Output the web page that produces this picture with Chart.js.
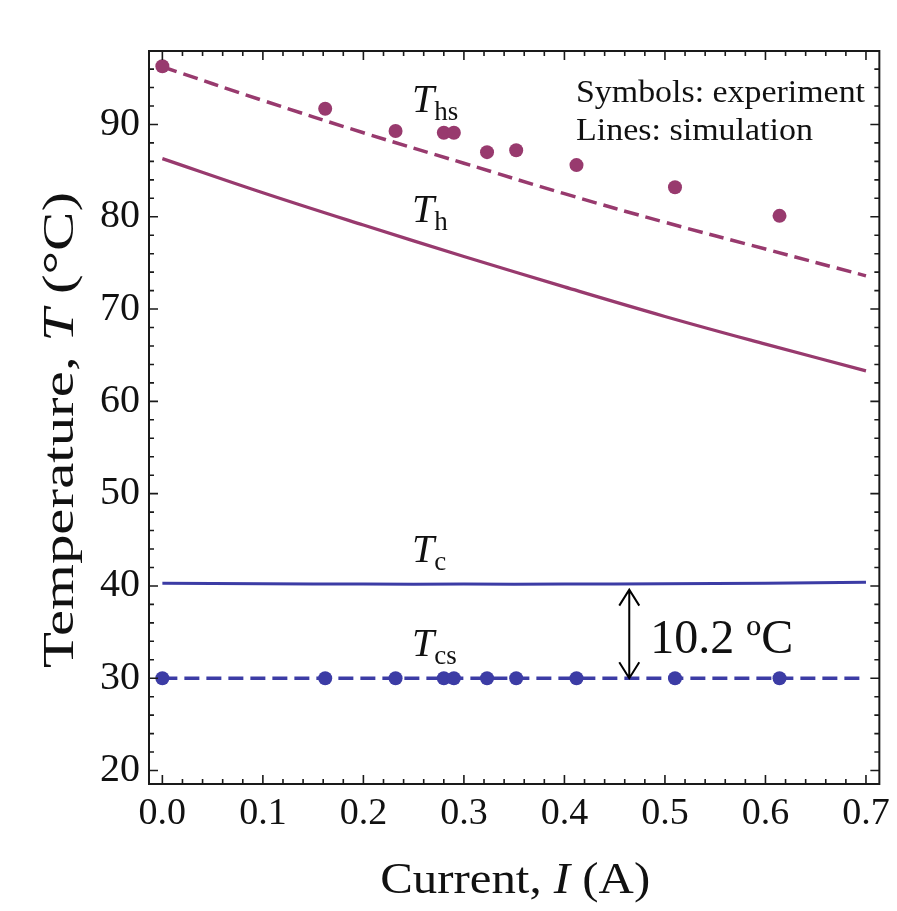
<!DOCTYPE html>
<html>
<head>
<meta charset="utf-8">
<script src="https://cdn.jsdelivr.net/npm/chart.js@4.4.1/dist/chart.umd.min.js"></script>
<style>
  html, body { margin: 0; padding: 0; background: #fff; }
</style>
</head>
<body>
<canvas id="tempChart" width="897" height="911"></canvas>
<script>
// experiment (symbols)
const expCurrent = [0.0, 0.162, 0.232, 0.280, 0.290, 0.323, 0.352, 0.412, 0.510, 0.614]
const expThs = [96.3, 91.7, 89.3, 89.1, 89.1, 87.0, 87.2, 85.6, 83.2, 80.1]
const expTcs = [30.0, 30.0, 30.0, 30.0, 30.0, 30.0, 30.0, 30.0, 30.0, 30.0]

// simulation (lines)
const simCurrent = [0.0, 0.1, 0.2, 0.3, 0.4, 0.5, 0.6, 0.7]
const simThs = [96.25, 92.6, 89.1, 85.8, 82.5, 79.4, 76.5, 73.6]
const simTh = [86.3, 82.6, 79.1, 75.7, 72.4, 69.2, 66.2, 63.3]
const simTc = [40.3, 40.25, 40.2, 40.2, 40.2, 40.25, 40.3, 40.4]
const simTcs = [30.0, 30.0, 30.0, 30.0, 30.0, 30.0, 30.0, 30.0]

const xTicks = [0.0, 0.1, 0.2, 0.3, 0.4, 0.5, 0.6, 0.7]
const yTicks = [20, 30, 40, 50, 60, 70, 80, 90]

// gap annotation between Tc and Tcs
const gapCurrent = 0.4645
const gapTop = 39.6
const gapBottom = 30.0
const gapText = '10.2 ºC'

const purple = '#983a6e'
const blue = '#3c3ca5'
const serif = '"Liberation Serif", "Times New Roman", serif'

const pts = (xs, ys) => xs.map((x, i) => ({ x: x, y: ys[i] }))

// writes a run of text pieces with different fonts
function drawRich(ctx, parts, x, y, align, fitWidth) {
  let w = 0
  parts.forEach(p => { ctx.font = p.font; p.w = ctx.measureText(p.text).width; w += p.w })
  let sx = fitWidth ? fitWidth / w : 1
  let start = align === 'center' ? x - w * sx / 2 : x
  ctx.save()
  ctx.translate(start, y)
  ctx.scale(sx, 1)
  let cx = 0
  parts.forEach(p => {
    ctx.font = p.font
    ctx.fillText(p.text, cx, p.dy || 0)
    cx += p.w
  })
  ctx.restore()
}

const framePlugin = {
  id: 'frame',
  afterDraw(chart) {
    const ctx = chart.ctx
    const a = chart.chartArea
    const xs = chart.scales.x, ys = chart.scales.y
    ctx.save()
    ctx.strokeStyle = '#1a1a1a'
    ctx.lineWidth = 2
    ctx.strokeRect(a.left, a.top, a.right - a.left, a.bottom - a.top)
    ctx.lineWidth = 1.6
    ctx.beginPath()
    for (let i = 0; i <= 35; i++) {
      let v = i * 0.02
      let px = xs.getPixelForValue(v)
      let len = i % 5 === 0 ? 9 : 5
      ctx.moveTo(px, a.bottom); ctx.lineTo(px, a.bottom - len)
      ctx.moveTo(px, a.top); ctx.lineTo(px, a.top + len)
    }
    for (let v = 20; v <= 96; v += 2) {
      let py = ys.getPixelForValue(v)
      let len = v % 10 === 0 ? 9 : 5
      ctx.moveTo(a.left, py); ctx.lineTo(a.left + len, py)
      ctx.moveTo(a.right, py); ctx.lineTo(a.right - len, py)
    }
    ctx.stroke()
    ctx.restore()
  }
}

const labelPlugin = {
  id: 'labels',
  afterDraw(chart) {
    const ctx = chart.ctx
    const xs = chart.scales.x, ys = chart.scales.y
    const a = chart.chartArea
    ctx.save()
    ctx.fillStyle = '#111'
    ctx.textBaseline = 'alphabetic'

    // curve names
    const names = [['hs', 91.35], ['h', 79.4], ['c', 42.6], ['cs', 32.4]]
    names.forEach(n => {
      drawRich(ctx, [
        { text: 'T', font: 'italic 40px ' + serif },
        { text: n[0], font: '27px ' + serif, dy: 8 }
      ], xs.getPixelForValue(0.2484), ys.getPixelForValue(n[1]), 'left')
    })

    // note
    drawRich(ctx, [{ text: 'Symbols: experiment', font: '31px ' + serif }], a.left + 427, a.top + 51, 'left', 289)
    drawRich(ctx, [{ text: 'Lines: simulation', font: '31px ' + serif }], a.left + 427, a.top + 89, 'left', 237)

    // arrow
    let ax = xs.getPixelForValue(gapCurrent)
    let at = ys.getPixelForValue(gapTop)
    let ab = ys.getPixelForValue(gapBottom)
    ctx.strokeStyle = '#000'
    ctx.lineWidth = 2
    ctx.beginPath()
    ctx.moveTo(ax, at); ctx.lineTo(ax, ab)
    ctx.moveTo(ax - 10, at + 16); ctx.lineTo(ax, at); ctx.lineTo(ax + 10, at + 16)
    ctx.moveTo(ax - 10, ab - 16); ctx.lineTo(ax, ab); ctx.lineTo(ax + 10, ab - 16)
    ctx.stroke()
    drawRich(ctx, [{ text: gapText, font: '48px ' + serif }], ax + 21, ys.getPixelForValue(32.74), 'left')

    // axis titles
    drawRich(ctx, [
      { text: 'Current, ', font: '44px ' + serif },
      { text: 'I', font: 'italic 44px ' + serif },
      { text: ' (A)', font: '44px ' + serif }
    ], (a.left + a.right) / 2 + 1, 893, 'center', 270)

    ctx.save()
    ctx.translate(73, 430)
    ctx.rotate(-Math.PI / 2)
    drawRich(ctx, [
      { text: 'Temperature, ', font: '45px ' + serif },
      { text: 'T', font: 'italic 45px ' + serif },
      { text: ' (°C)', font: '45px ' + serif }
    ], 0, 0, 'center', 476)
    ctx.restore()
    ctx.restore()
  }
}

let chartCtx = document.getElementById('tempChart').getContext('2d')

let tempChart = new Chart(chartCtx, {
  type: 'scatter',
  data: {
    datasets: [
      { data: pts(expCurrent, expThs), backgroundColor: purple, borderWidth: 0, pointRadius: 7, order: 0 },
      { data: pts(expCurrent, expTcs), backgroundColor: blue, borderWidth: 0, pointRadius: 7, order: 0 },
      { data: pts(simCurrent, simThs), showLine: true, borderColor: purple, borderWidth: 3.5, borderDash: [15, 7], pointRadius: 0, tension: 0.4, order: 1 },
      { data: pts(simCurrent, simTh), showLine: true, borderColor: purple, borderWidth: 3.2, pointRadius: 0, tension: 0.4, order: 1 },
      { data: pts(simCurrent, simTc), showLine: true, borderColor: blue, borderWidth: 3, pointRadius: 0, tension: 0.4, order: 1 },
      { data: pts(simCurrent, simTcs), showLine: true, borderColor: blue, borderWidth: 3.5, borderDash: [15, 7], pointRadius: 0, tension: 0, order: 1 }
    ]
  },
  options: {
    responsive: false,
    animation: false,
    events: [],
    layout: { padding: { top: 51, right: 15, left: 0, bottom: 0 } },
    plugins: {
      legend: { display: false },
      tooltip: { enabled: false }
    },
    scales: {
      x: {
        type: 'linear',
        min: -0.0133,
        max: 0.7133,
        afterFit: s => { s.height = 127 },
        afterBuildTicks: s => { s.ticks = xTicks.map(v => ({ value: v })) },
        grid: { display: false, drawTicks: false },
        border: { display: false },
        ticks: {
          padding: 7,
          color: '#111',
          autoSkip: false,
          maxRotation: 0,
          font: { family: serif, size: 38 },
          callback: v => v.toFixed(1)
        }
      },
      y: {
        min: 18.54,
        max: 97.96,
        afterFit: s => { s.width = 149 },
        afterBuildTicks: s => { s.ticks = yTicks.map(v => ({ value: v })) },
        grid: { display: false, drawTicks: false },
        border: { display: false },
        ticks: {
          padding: 9,
          color: '#111',
          autoSkip: false,
          font: { family: serif, size: 40 },
          callback: v => String(v)
        }
      }
    }
  },
  plugins: [framePlugin, labelPlugin]
})
</script>
</body>
</html>
